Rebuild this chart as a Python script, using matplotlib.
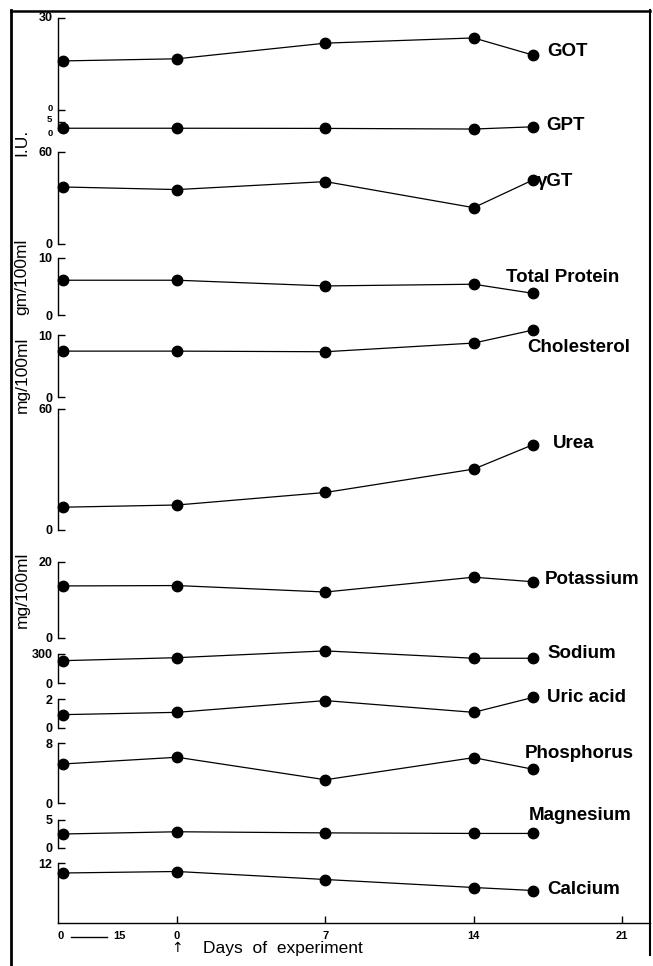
import matplotlib
matplotlib.use("Agg")
import matplotlib.pyplot as plt
from matplotlib.lines import Line2D
import matplotlib.transforms as mtransforms

plt.rcParams['font.family'] = ['Liberation Sans', 'DejaVu Sans']

# ---- data ----
days = [-5.4, 0, 7, 14, 16.8]
names = ["GOT", "GPT", "γGT", "Total Protein", "Cholesterol", "Urea",
         "Potassium", "Sodium", "Uric acid", "Phosphorus", "Magnesium", "Calcium"]
got = [16.0, 16.7, 21.8, 23.5, 17.9]
gpt = [1.1, 1.1, 1.0, 0.6, 2.0]
ggt = [37.2, 35.5, 40.7, 23.7, 41.8]
total_protein = [6.1, 6.1, 5.1, 5.4, 3.8]
cholesterol = [7.4, 7.4, 7.3, 8.7, 10.8]
urea = [11.3, 12.4, 18.6, 30.2, 42.3]
potassium = [13.7, 13.8, 12.1, 16.0, 14.8]
sodium = [231, 262, 332, 256, 256]
uric_acid = [0.92, 1.08, 1.89, 1.08, 2.11]
phosphorus = [5.2, 6.1, 3.1, 6.05, 4.5]
magnesium = [2.5, 2.9, 2.7, 2.6, 2.6]
calcium = [10.0, 10.3, 8.7, 7.1, 6.5]
series = [got, gpt, ggt, total_protein, cholesterol, urea,
          potassium, sodium, uric_acid, phosphorus, magnesium, calcium]
ytick_vals = [[0, 30], [0, 5], [0, 60], [0, 10], [0, 10], [0, 60],
              [0, 20], [0, 300], [0, 2], [0, 8], [0, 5], [12]]
ylims = [(0, 30), (0, 12.5), (0, 60), (0, 10), (0, 10), (0, 60),
         (0, 20), (0, 300), (0, 2), (0, 8), (0, 5), (0, 12)]
xtick_vals = [-5.5, -2.7, 0, 7, 14, 21]
xtick_labels = ["0", "15", "0", "7", "14", "21"]
unit_labels = ["I.U.", "gm/100ml", "mg/100ml", "mg/100ml"]

# ---- layout (pixels) ----
W, H = 653, 966
panel_px = [(18, 110), (110, 130), (152, 244), (258, 315), (335, 397), (409, 530),
            (562, 638), (654, 683), (699, 728), (743, 803), (820, 848), (863, 923)]
label_px = [(547, 52), (546, 126), (537, 182), (506, 277), (527, 348), (553, 443),
            (545, 580), (547, 654), (547, 697), (525, 753), (529, 816), (547, 890)]
unit_y_px = [142, 277, 375, 590]
x_left_px, x_right_px = 58, 650
xlim = (-5.62, 22.32)

fig = plt.figure(figsize=(W / 100, H / 100), dpi=100)

for i, (name, vals) in enumerate(zip(names, series)):
    top, bot = panel_px[i]
    ax = fig.add_axes([x_left_px / W, 1 - bot / H, (x_right_px - x_left_px) / W, (bot - top) / H])
    ax.set_xlim(*xlim)
    ax.set_ylim(*ylims[i])
    ax.plot(days, vals, color='black', lw=0.9, marker='o', markersize=7.5,
            clip_on=False, zorder=3)
    for s in ['top', 'right']:
        ax.spines[s].set_visible(False)
    ax.spines['left'].set_linewidth(1.0)
    ax.set_yticks(ytick_vals[i])
    ax.tick_params(axis='y', direction='in', length=5, width=1.0, pad=4)
    if i in (0, 1):
        # tightly stacked labels: draw manually with small offsets
        ax.set_yticklabels([])
        bt = mtransforms.blended_transform_factory(ax.transAxes, ax.transData)
        offs = {0: {0: 1, 30: 0}, 1: {5: 1.5, 0: -2.5}}[i]
        for v in ytick_vals[i]:
            tr = mtransforms.offset_copy(bt, fig=fig, x=-4, y=offs[v], units='points')
            fs = 9 if (i == 0 and v == 30) else 6.8
            ax.text(0, v, str(v), transform=tr, ha='right', va='center',
                    fontsize=fs, fontweight='bold')
    else:
        ax.set_yticklabels([str(v) for v in ytick_vals[i]], fontsize=9, fontweight='bold')
    ax.patch.set_visible(False)
    if i < len(names) - 1:
        ax.spines['bottom'].set_visible(False)
        ax.set_xticks([])
    else:
        ax.spines['bottom'].set_linewidth(1.0)
        ax.set_xticks(xtick_vals)
        ax.set_xticklabels(xtick_labels, fontsize=8, fontweight='bold')
        ax.tick_params(axis='x', direction='in', length=5, width=1.0, pad=6)
        for t in ax.xaxis.get_major_ticks()[:2]:
            t.tick1line.set_visible(False)
        trans = mtransforms.blended_transform_factory(ax.transData, ax.transAxes)
        ax.plot([-5.0, -3.3], [-0.24, -0.24], color='black', lw=1.0,
                transform=trans, clip_on=False)
    lx, ly = label_px[i]
    fig.text(lx / W, 1 - ly / H, name, fontsize=13.5, fontweight='bold',
             ha='left', va='center')

# unit labels
for txt, yc in zip(unit_labels, unit_y_px):
    fig.text(22 / W, 1 - yc / H, txt, rotation=90, fontsize=12.5, ha='center', va='center')

# x-axis caption
fig.text(177 / W, 1 - 948 / H, "↑", fontsize=10, ha='center', va='center',
         family=['DejaVu Sans'])
fig.text(203 / W, 1 - 948 / H, "Days  of  experiment", fontsize=12.5, ha='left', va='center')

# outer frame
for xs, ys, lw in [((11, 11), (10, 966), 2.0), ((11, 650), (11, 11), 1.8),
                   ((650, 650), (10, 955), 1.5)]:
    fig.add_artist(Line2D([x / W for x in xs], [1 - y / H for y in ys],
                          color='black', lw=lw, transform=fig.transFigure))

fig.savefig("out.png", dpi=100, facecolor='white')
